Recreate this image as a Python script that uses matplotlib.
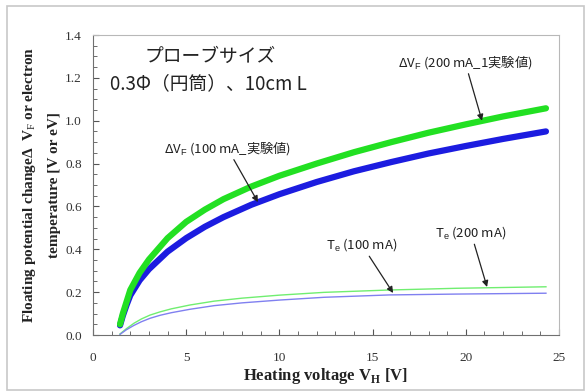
import matplotlib
matplotlib.use("Agg")
import matplotlib.pyplot as plt
from matplotlib.patches import Rectangle
from matplotlib.ticker import MultipleLocator

plt.rcParams['mathtext.fontset'] = 'custom'
plt.rcParams['mathtext.rm'] = 'Liberation Serif'
plt.rcParams['mathtext.bf'] = 'Liberation Serif:bold'
plt.rcParams['mathtext.sf'] = 'Liberation Sans'

# Floating potential change, 200 mA and 100 mA
vh_dvf = [1.45, 1.6, 1.8, 2.0, 2.5, 3.0, 4.0, 5.0, 6.0, 7.0, 8.5, 10.0,
          12.0, 14.0, 16.0, 18.0, 20.0, 22.0, 24.3]
dvf_200 = [0.05, 0.10, 0.155, 0.21, 0.29, 0.352, 0.452, 0.528, 0.585, 0.634, 0.693,
           0.743, 0.8, 0.853, 0.90, 0.944, 0.983, 1.02, 1.058]
dvf_100 = [0.045, 0.09, 0.14, 0.185, 0.255, 0.307, 0.389, 0.452, 0.505, 0.55, 0.608,
           0.657, 0.714, 0.764, 0.807, 0.847, 0.882, 0.915, 0.95]

# Electron temperature
vh_te = [1.45, 1.8, 2.2, 2.6, 3.06, 3.6, 4.2, 5.2, 6.5, 8.0, 10.0, 12.4, 15.9, 19.5, 24.3]
te_200 = [0.005, 0.03, 0.055, 0.075, 0.093, 0.108, 0.122, 0.14, 0.158, 0.172, 0.186,
          0.199, 0.21, 0.218, 0.225]
te_100 = [0.003, 0.025, 0.045, 0.062, 0.078, 0.092, 0.104, 0.12, 0.137, 0.15, 0.163,
          0.176, 0.187, 0.191, 0.195]

green = '#22e022'
blue = '#1c1ce0'
jp = ['Noto Sans CJK JP', 'DejaVu Sans']

fig = plt.figure(figsize=(5.85, 3.92), dpi=100, facecolor='white')
fig.patches.append(Rectangle((7 / 585, 2 / 392), 577 / 585, 384 / 392,
                             transform=fig.transFigure, fill=False,
                             edgecolor='#c8c8c8', linewidth=1.2))
ax = fig.add_axes([93 / 585, 1 - 335 / 392, 466 / 585, 300 / 392])

ax.plot(vh_te, te_200, color='#70ee70', linewidth=1.0)
ax.plot(vh_te, te_100, color='#8080f0', linewidth=1.0)
ax.plot(vh_dvf, dvf_100, color=blue, linewidth=4.5, solid_capstyle='round')
ax.plot(vh_dvf, dvf_200, color=green, linewidth=4.5, solid_capstyle='round')

ax.set_xlim(0, 25)
ax.set_ylim(0, 1.4)
ax.xaxis.set_major_locator(MultipleLocator(5))
ax.xaxis.set_minor_locator(MultipleLocator(1))
ax.yaxis.set_major_locator(MultipleLocator(0.2))
ax.yaxis.set_minor_locator(MultipleLocator(0.05))
ax.yaxis.set_major_formatter(lambda v, p: f'{v:.1f}')
ax.tick_params(which='both', direction='in', colors='#555555', labelcolor='#333333',
               labelsize=9.5)
ax.tick_params(which='major', length=4)
ax.tick_params(which='minor', length=3)
ax.tick_params(axis='y', pad=8)
ax.tick_params(axis='x', pad=12)
for lab in ax.get_xticklabels() + ax.get_yticklabels():
    lab.set_family('Liberation Serif')
for s in ['left', 'bottom']:
    ax.spines[s].set_color('#707070')
for s in ['top', 'right']:
    ax.spines[s].set_color('#b8b8b8')

ax.set_xlabel('Heating voltage V$_\\mathbf{H}$ [V]', family='Liberation Serif',
              fontweight='bold', fontsize=12, color='#222222', labelpad=2)
ax.set_ylabel('Floating potential change\u0394  V$_\\mathrm{F}$ or electron\ntemperature [V or eV]',
              family='Liberation Serif', fontweight='bold', fontsize=11,
              color='#222222', labelpad=3, linespacing=2.0)

ax.text(6.3, 1.30, 'プローブサイズ', family=jp, fontsize=13.5, ha='center', va='center',
        color='#222222')
ax.text(6.2, 1.175, '0.3Φ（円筒）、10cm L', family=jp, fontsize=13.5, ha='center',
        va='center', color='#222222')

arrow = dict(arrowstyle='-|>', color='#222222', lw=0.9, mutation_scale=9,
             shrinkA=0, shrinkB=0)
ax.annotate('\u0394V$_\\mathsf{F}$ (100 mA_実験値)', xy=(8.85, 0.62), xytext=(7.2, 0.873),
            family='Noto Sans CJK JP', fontsize=9.5, ha='center', va='center',
            color='#222222', arrowprops=arrow)
ax.annotate('\u0394V$_\\mathsf{F}$ (200 mA_1実験値)', xy=(20.87, 1.0), xytext=(19.96, 1.274),
            family='Noto Sans CJK JP', fontsize=9.5, ha='center', va='center',
            color='#222222', arrowprops=arrow)
ax.annotate('T$_\\mathsf{e}$ (100 mA)', xy=(16.1, 0.196), xytext=(14.43, 0.42),
            family='Noto Sans CJK JP', fontsize=9.5, ha='center', va='center',
            color='#222222', arrowprops=arrow)
ax.annotate('T$_\\mathsf{e}$ (200 mA)', xy=(21.14, 0.224), xytext=(20.28, 0.476),
            family='Noto Sans CJK JP', fontsize=9.5, ha='center', va='center',
            color='#222222', arrowprops=arrow)

fig.savefig('out.png', dpi=100, facecolor='white')
